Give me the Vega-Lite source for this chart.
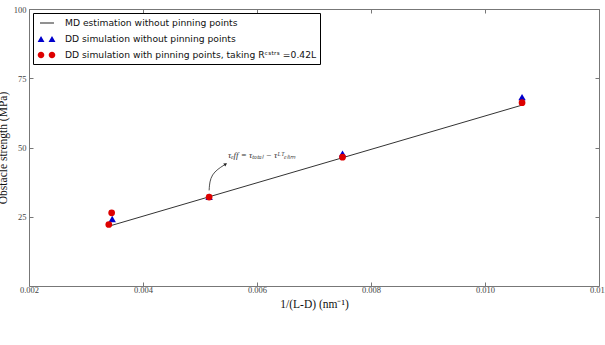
{
  "$schema": "https://vega.github.io/schema/vega-lite/v6.json",
  "width": 570,
  "height": 277,
  "autosize": "none",
  "padding": {"left": 29, "top": 9, "right": 6, "bottom": 59},
  "background": "white",
  "config": {
    "view": {"stroke": null},
    "axis": {
      "labelFont": "Liberation Serif",
      "labelFontSize": 8,
      "labelColor": "#444",
      "titleFont": "Liberation Serif",
      "titleFontSize": 11,
      "titleFontWeight": "normal",
      "titleColor": "#111",
      "domainColor": "#777",
      "tickColor": "#777",
      "grid": false
    }
  },
  "datasets": {
    "line": [
      {"x": 0.00342, "y": 21.7},
      {"x": 0.00516, "y": 32.2},
      {"x": 0.0075, "y": 46.3},
      {"x": 0.01065, "y": 65.3}
    ],
    "tri": [
      {"x": 0.00346, "y": 24.2},
      {"x": 0.00516, "y": 32.2},
      {"x": 0.0075, "y": 47.8},
      {"x": 0.01065, "y": 68.2}
    ],
    "circ": [
      {"x": 0.00345, "y": 26.4},
      {"x": 0.0034, "y": 22.2},
      {"x": 0.00516, "y": 32.1},
      {"x": 0.0075, "y": 46.5},
      {"x": 0.01065, "y": 66.2}
    ],
    "arrow": [
      {"x": 0.00516, "y": 34.5, "o": 1},
      {"x": 0.00518, "y": 40.5, "o": 2},
      {"x": 0.00545, "y": 44.0, "o": 3}
    ],
    "head": [{"x": 0.00545, "y": 44.0}],
    "note": [{"x": 0.00549, "y": 47.3, "t": "τₑff = τₜₒₜₐₗ − τᴸᵀₑₗᵢₘ"}],
    "legend": [
      {"series": "MD estimation without pinning points", "x": 0, "y": 0},
      {"series": "DD simulation without pinning points", "x": 0, "y": 0},
      {"series": "DD simulation with pinning points, taking Rᶜˢᵗʳˢ =0.42L", "x": 0, "y": 0}
    ]
  },
  "resolve": {"axis": {"x": "independent", "y": "independent"}},
  "layer": [
    {
      "data": {"name": "line"},
      "mark": {"type": "line", "color": "#333", "strokeWidth": 1},
      "encoding": {
        "x": {
          "field": "x", "type": "quantitative",
          "scale": {"domain": [0.002, 0.012], "nice": false, "zero": false},
          "axis": {
            "orient": "bottom",
            "values": [0.002, 0.004, 0.006, 0.008, 0.01, 0.012],
            "format": ".3f",
            "title": "1/(L-D) (nm⁻¹)",
            "labelFont": "Liberation Serif",
            "labelFontSize": 8.5,
            "titleFont": "Liberation Serif",
            "titleFontSize": 11.5,
            "tickSize": -4,
            "labelPadding": 3,
            "titlePadding": 5,
            "labelFlush": false
          }
        },
        "y": {
          "field": "y", "type": "quantitative",
          "scale": {"domain": [0, 100], "nice": false},
          "axis": {
            "orient": "left",
            "values": [25, 50, 75, 100],
            "title": "Obstacle strength (MPa)",
            "labelFont": "Liberation Serif",
            "labelFontSize": 8.5,
            "titleFont": "Liberation Serif",
            "titleFontSize": 11.5,
            "tickSize": -4,
            "labelPadding": 7,
            "titlePadding": 5
          }
        }
      }
    },
    {
      "data": {"name": "tri"},
      "mark": {"type": "point", "shape": "triangle-up", "filled": true, "color": "#0000cc", "size": 55, "opacity": 1},
      "encoding": {
        "x": {"field": "x", "type": "quantitative", "axis": null},
        "y": {"field": "y", "type": "quantitative", "axis": null}
      }
    },
    {
      "data": {"name": "circ"},
      "mark": {"type": "point", "shape": "circle", "filled": true, "color": "#dd0000", "size": 45, "opacity": 1},
      "encoding": {
        "x": {"field": "x", "type": "quantitative", "axis": null},
        "y": {"field": "y", "type": "quantitative", "axis": null}
      }
    },
    {
      "data": {"name": "arrow"},
      "mark": {"type": "line", "color": "#222", "strokeWidth": 0.8, "interpolate": "basis"},
      "encoding": {
        "x": {"field": "x", "type": "quantitative", "axis": null},
        "y": {"field": "y", "type": "quantitative", "axis": null},
        "order": {"field": "o"}
      }
    },
    {
      "data": {"name": "head"},
      "mark": {"type": "point", "shape": "triangle-up", "filled": true, "color": "#222", "size": 14, "angle": 57, "opacity": 1},
      "encoding": {
        "x": {"field": "x", "type": "quantitative", "axis": null},
        "y": {"field": "y", "type": "quantitative", "axis": null}
      }
    },
    {
      "data": {"name": "note"},
      "mark": {"type": "text", "align": "left", "baseline": "middle", "font": "Liberation Serif", "fontStyle": "italic", "fontSize": 9, "color": "#333"},
      "encoding": {
        "x": {"field": "x", "type": "quantitative", "axis": null},
        "y": {"field": "y", "type": "quantitative", "axis": null},
        "text": {"field": "t"}
      }
    },
    {
      "data": {"name": "legend"},
      "transform": [{"filter": "false"}],
      "mark": {"type": "point", "filled": true, "opacity": 1},
      "encoding": {
        "x": {
          "field": "x", "type": "quantitative",
          "axis": {"orient": "top", "values": [0.002, 0.004, 0.006, 0.008, 0.01, 0.012], "labels": false, "title": null, "tickSize": -4}
        },
        "y": {
          "field": "y", "type": "quantitative",
          "axis": {"orient": "right", "values": [25, 50, 75, 100], "labels": false, "title": null, "tickSize": -4}
        },
        "color": {
          "field": "series", "type": "nominal",
          "scale": {
            "domain": ["MD estimation without pinning points", "DD simulation without pinning points", "DD simulation with pinning points, taking Rᶜˢᵗʳˢ =0.42L"],
            "range": ["#333333", "#0000cc", "#dd0000"]
          },
          "legend": {
            "orient": "top-left",
            "offset": 4,
            "title": null,
            "padding": 3,
            "strokeColor": "#000",
            "fillColor": "white",
            "labelFont": "DejaVu Sans",
            "labelFontSize": 9.2,
            "labelColor": "#111",
            "symbolSize": 144,
            "rowPadding": 3,
            "labelOffset": 15,
            "labelLimit": 400
          }
        },
        "shape": {
          "field": "series", "type": "nominal",
          "scale": {
            "domain": ["MD estimation without pinning points", "DD simulation without pinning points", "DD simulation with pinning points, taking Rᶜˢᵗʳˢ =0.42L"],
            "range": [
              "M-0.5,-0.09H1.83V0.09H-0.5Z",
              "M-0.9,0.5L-0.33,-0.5L0.25,0.5Z M0.92,0.5L1.5,-0.5L2.08,0.5Z",
              "M-0.88,0A0.55,0.55 0 1,0 0.22,0A0.55,0.55 0 1,0 -0.88,0Z M0.95,0A0.55,0.55 0 1,0 2.05,0A0.55,0.55 0 1,0 0.95,0Z"
            ]
          },
          "legend": {
            "orient": "top-left",
            "offset": 4,
            "title": null,
            "padding": 3,
            "strokeColor": "#000",
            "fillColor": "white",
            "labelFont": "DejaVu Sans",
            "labelFontSize": 9.2,
            "labelColor": "#111",
            "symbolSize": 144,
            "rowPadding": 3,
            "labelOffset": 15,
            "labelLimit": 400
          }
        }
      }
    }
  ]
}
